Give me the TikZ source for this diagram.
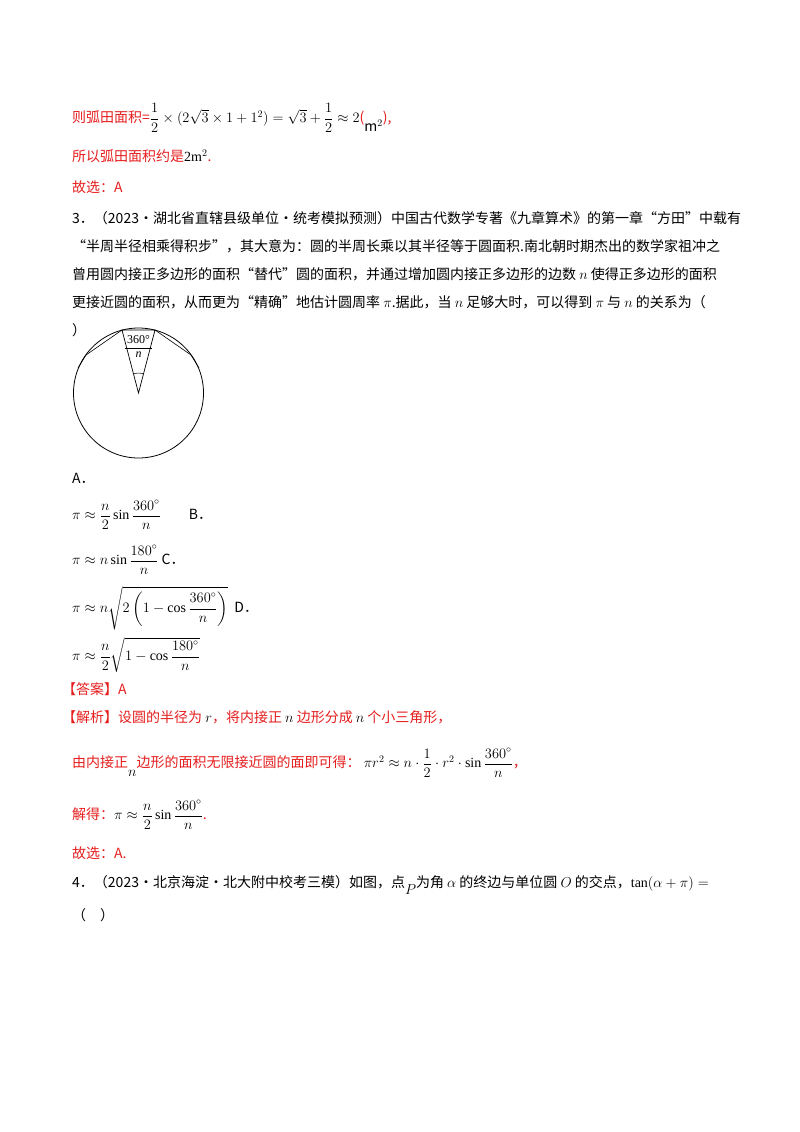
\documentclass[tikz,border=0pt]{standalone}
\usepackage{fontspec}
\usepackage{amsmath}
\setmainfont{Liberation Serif}
\newfontfamily\cjk{Noto Sans CJK SC}
\definecolor{ansred}{RGB}{230,30,30}
\begin{document}
\begin{tikzpicture}[x=1pt,y=-1pt,
  txt/.style={anchor=west,inner sep=0pt,font=\cjk\fontsize{14}{16}\selectfont},
  red/.style={txt,text=ansred}]
\useasboundingbox[fill=white] (0,0) rectangle (800,1132);
\node[red] (l1) at (72,118) {则弧田面积=\textcolor{black}{$\dfrac{1}{2}\times(2\sqrt{3}\times1+1^2)=\sqrt{3}+\dfrac{1}{2}\approx2$}(\raisebox{-1.2ex}{\textcolor{black}{m$^2$}}),};
\node[red] (l2) at (72,156) {所以弧田面积约是\textcolor{black}{\rmfamily 2m$^2$}.};
\node[red] (l3) at (72,187) {故选：A};
\node[txt] (q1) at (72,218) {3．（2023·湖北省直辖县级单位·统考模拟预测）中国古代数学专著《九章算术》的第一章“方田”中载有};
\node[txt] (q2) at (72,246) {“半周半径相乘得积步”，其大意为：圆的半周长乘以其半径等于圆面积.南北朝时期杰出的数学家祖冲之};
\node[txt] (q3) at (72,274) {曾用圆内接正多边形的面积“替代”圆的面积，并通过增加圆内接正多边形的边数 $n$ 使得正多边形的面积};
\node[txt] (q4) at (72,302) {更接近圆的面积，从而更为“精确”地估计圆周率 $\pi$.据此，当 $n$ 足够大时，可以得到 $\pi$ 与 $n$ 的关系为（};
\node[txt] (q5) at (72,330) {）};
% figure
\coordinate (O) at (138.5,393);
\draw[line width=0.8pt] (O) circle (65);
\coordinate (P1) at (122,330);
\coordinate (P2) at (155,330);
\coordinate (P0) at (86,355);
\coordinate (P3) at (191,355);
\draw[line width=0.7pt] (O) -- (P1) -- (P2) -- cycle;
\draw[line width=0.6pt] (P1) -- (P0) (P2) -- (P3);
\draw[line width=0.6pt] (86,355) -- (78,368) (191,355) -- (199,368);
\draw[line width=0.5pt] (O) ++(256:20) arc[start angle=256,end angle=284,radius=20];
\draw[line width=0.5pt] (125,348) -- (152,348);
\node[inner sep=0pt,font=\fontsize{12}{12}\selectfont] (fa) at (138.5,340) {360°};
\node[inner sep=0pt,font=\fontsize{12}{12}\selectfont\itshape] (fb) at (138.5,355) {n};
% options
\node[txt] (A) at (72,478) {A．};
\node[txt] (oa) at (72,515) {$\pi\approx\dfrac{n}{2}\sin\dfrac{360^\circ}{n}$\qquad B．};
\node[txt] (ob) at (72,560) {$\pi\approx n\sin\dfrac{180^\circ}{n}$ C．};
\node[txt] (oc) at (72,608) {$\pi\approx n\sqrt{2\left(1-\cos\dfrac{360^\circ}{n}\right)}$\ \ D．};
\node[txt] (od) at (72,655) {$\pi\approx\dfrac{n}{2}\sqrt{1-\cos\dfrac{180^\circ}{n}}$};
\node[red] (ans) at (62,689) {【答案】A};
\node[red] (jx) at (62,717) {【解析】设圆的半径为 \textcolor{black}{$r$}，将内接正 \textcolor{black}{$n$} 边形分成 \textcolor{black}{$n$} 个小三角形，};
\node[red] (s1) at (72,763) {由内接正\raisebox{-1.2ex}{\textcolor{black}{$n$}}边形的面积无限接近圆的面即可得：\ \textcolor{black}{$\pi r^2\approx n\cdot\dfrac{1}{2}\cdot r^2\cdot\sin\dfrac{360^\circ}{n}$}，};
\node[red] (s2) at (72,815) {解得：\textcolor{black}{$\pi\approx\dfrac{n}{2}\sin\dfrac{360^\circ}{n}$}.};
\node[red] (s3) at (72,853) {故选：A.};
\node[txt] (q6) at (72,885) {4．（2023·北京海淀·北大附中校考三模）如图，点\raisebox{-0.8ex}{$P$}为角 $\alpha$ 的终边与单位圆 $O$ 的交点，$\tan(\alpha+\pi)=$};
\node[txt] (q7) at (72,915) {（\quad ）};
\end{tikzpicture}
\end{document}
